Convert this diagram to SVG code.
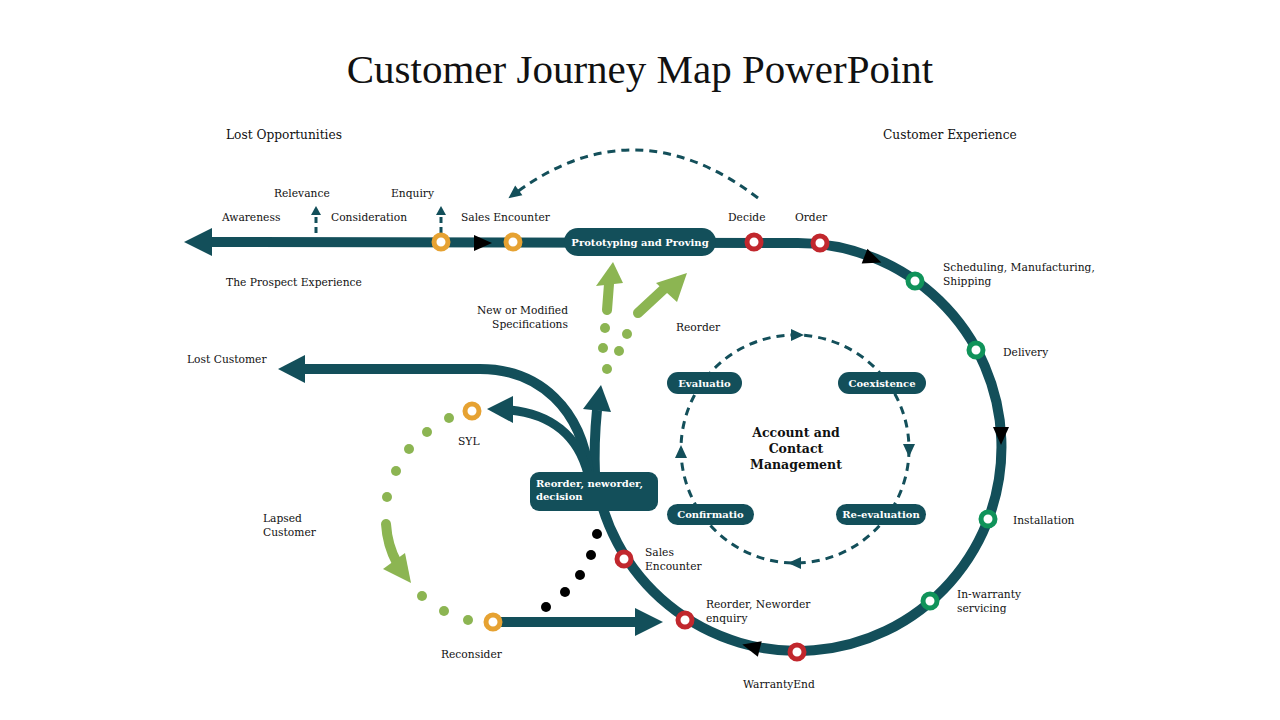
<svg xmlns="http://www.w3.org/2000/svg" xmlns:xlink="http://www.w3.org/1999/xlink" width="1280" height="720" viewBox="0 0 1280 720">
<style>
.title{font-family:"Liberation Serif","Times New Roman",serif;font-size:41px;fill:#111}
.lbl{font-family:"DejaVu Serif","Liberation Serif",serif;font-size:10.7px;fill:#111}
.head{font-family:"DejaVu Serif","Liberation Serif",serif;font-size:12.2px;fill:#111}
.pt{font-family:"DejaVu Serif","Liberation Serif",serif;font-size:10px;font-weight:bold;fill:#fff}
.ctr{font-family:"DejaVu Serif","Liberation Serif",serif;font-size:12.5px;font-weight:bold;fill:#111}
.teal{fill:none;stroke:#134f5a;stroke-width:10}
.tealf{fill:#134f5a}
.dash{fill:none;stroke:#134f5a;stroke-width:3;stroke-dasharray:8 6}
.gline{fill:none;stroke:#8cb552;stroke-width:10;stroke-linecap:round}
.gf{fill:#8cb552}
.ring{fill:#fff;stroke-width:5}
.ro{stroke:#e6a232}
.rr{stroke:#c1272d}
.rg{stroke:#10935a}
.pill{fill:#134f5a}
</style>
<defs>
<path id="tri" d="M-8,-8 L10,0 L-8,8 Z" fill="#000"/>
<path id="stri" d="M-6,-6 L7,0 L-6,6 Z" fill="#134f5a"/>
<circle id="gdot" r="5" fill="#8cb552"/>
<circle id="bdot" r="5" fill="#000"/>
</defs>

<text class="title" x="640" y="83" text-anchor="middle">Customer Journey Map PowerPoint</text>

<g id="connectors">
  <!-- main journey line and loop -->
  <path class="teal" d="M208,242 L798,243 A204,204 0 1 1 595,472"/>
  <polygon class="tealf" points="184,242 212,228 212,256"/>
  <!-- up arrow from decision -->
  <path class="teal" d="M595,475 C594,450 595,430 597,410"/>
  <polygon class="tealf" points="583,409 611,412 601,385"/>
  <!-- lost customer -->
  <path class="teal" d="M303,369 L480,369 C540,369 582,410 589,474"/>
  <polygon class="tealf" points="278,369 305,355 305,383"/>
  <!-- SYL -->
  <path class="teal" style="stroke-width:9" d="M510,410 C550,414 578,435 588,474"/>
  <polygon class="tealf" points="487,409 513,396 513,423"/>
  <!-- reconsider -->
  <path class="teal" d="M500,622 L638,622"/>
  <polygon class="tealf" points="663,622 635,608 635,636"/>
  <!-- black direction arrows -->
  <use href="#tri" transform="translate(482,243)"/>
  <use href="#tri" transform="translate(872,259) rotate(21)"/>
  <use href="#tri" transform="translate(1001,435) rotate(90)"/>
  <use href="#tri" transform="translate(752,647) rotate(194)"/>
  <!-- dashed small arrows -->
  <path class="dash" style="stroke-dasharray:6 4" d="M316,233 L316,214"/>
  <polygon class="tealf" points="316,206 311,215 321,215"/>
  <path class="dash" style="stroke-dasharray:6 4" d="M441,233 L441,214"/>
  <polygon class="tealf" points="441,206 436,215 446,215"/>
  <!-- big dashed arc -->
  <path class="dash" d="M758,198 Q636,105 517,192"/>
  <use href="#stri" transform="translate(514,194) rotate(143)"/>
  <!-- inner dashed cycle -->
  <circle class="dash" cx="795" cy="449" r="114"/>
  <use href="#stri" transform="translate(797,335)"/>
  <use href="#stri" transform="translate(909,450) rotate(90)"/>
  <use href="#stri" transform="translate(795,563) rotate(180)"/>
  <use href="#stri" transform="translate(681,452) rotate(-90)"/>
  <!-- green arrows to prototyping -->
  <path class="gline" d="M607,310 L609,284"/>
  <polygon class="gf" points="596,286 623,283 613,262"/>
  <path class="gline" d="M638,313 L665,288"/>
  <polygon class="gf" points="656,283 677,302 687,273"/>
  <use href="#gdot" x="605" y="328"/>
  <use href="#gdot" x="627" y="334"/>
  <use href="#gdot" x="603" y="348"/>
  <use href="#gdot" x="619" y="351"/>
  <use href="#gdot" x="607" y="369"/>
  <!-- green lapsed arc -->
  <use href="#gdot" x="449" y="418"/>
  <use href="#gdot" x="427" y="432"/>
  <use href="#gdot" x="409" y="449"/>
  <use href="#gdot" x="396" y="471"/>
  <use href="#gdot" x="387" y="497"/>
  <path class="gline" d="M386,524 C387,540 391,552 397,563"/>
  <polygon class="gf" points="383,569 405,553 411,583"/>
  <use href="#gdot" x="422" y="596"/>
  <use href="#gdot" x="444" y="611"/>
  <use href="#gdot" x="468" y="620"/>
  <!-- black dots -->
  <use href="#bdot" x="597" y="534"/>
  <use href="#bdot" x="591" y="555"/>
  <use href="#bdot" x="580" y="575"/>
  <use href="#bdot" x="565" y="592"/>
  <use href="#bdot" x="546" y="607"/>
</g>

<g id="labels">
  <text class="head" x="226" y="139">Lost Opportunities</text>
  <text class="head" x="883" y="139">Customer Experience</text>
  <text class="lbl" x="274" y="197">Relevance</text>
  <text class="lbl" x="391" y="197">Enquiry</text>
  <text class="lbl" x="222" y="221">Awareness</text>
  <text class="lbl" x="331" y="221">Consideration</text>
  <text class="lbl" x="461" y="221">Sales Encounter</text>
  <text class="lbl" x="728" y="221">Decide</text>
  <text class="lbl" x="795" y="221">Order</text>
  <text class="lbl" x="226" y="286">The Prospect Experience</text>
  <text class="lbl" x="943" y="271">Scheduling, Manufacturing,</text>
  <text class="lbl" x="943" y="285">Shipping</text>
  <text class="lbl" x="1003" y="356">Delivery</text>
  <text class="lbl" x="1013" y="524">Installation</text>
  <text class="lbl" x="957" y="598">In-warranty</text>
  <text class="lbl" x="957" y="612">servicing</text>
  <text class="lbl" x="743" y="688">WarrantyEnd</text>
  <text class="lbl" x="706" y="608">Reorder, Neworder</text>
  <text class="lbl" x="706" y="622">enquiry</text>
  <text class="lbl" x="645" y="556">Sales</text>
  <text class="lbl" x="645" y="570">Encounter</text>
  <text class="lbl" x="441" y="658">Reconsider</text>
  <text class="lbl" x="263" y="522">Lapsed</text>
  <text class="lbl" x="263" y="536">Customer</text>
  <text class="lbl" x="458" y="445">SYL</text>
  <text class="lbl" x="187" y="363">Lost Customer</text>
  <text class="lbl" x="568" y="314" text-anchor="end">New or Modified</text>
  <text class="lbl" x="568" y="328" text-anchor="end">Specifications</text>
  <text class="lbl" x="676" y="331">Reorder</text>
</g>

<g id="node-prototyping">
  <rect class="pill" x="564" y="228" width="152" height="28" rx="14"/>
  <text class="pt" x="640" y="245.5" text-anchor="middle">Prototyping and Proving</text>
</g>
<g id="node-decision">
  <rect class="pill" x="530" y="472" width="128" height="39" rx="9"/>
  <text class="pt" x="536" y="487">Reorder, neworder,</text>
  <text class="pt" x="536" y="500">decision</text>
</g>
<g id="node-evaluation">
  <rect class="pill" x="667" y="372" width="75" height="22" rx="11"/>
  <text class="pt" x="704.5" y="386.5" text-anchor="middle">Evaluatio</text>
</g>
<g id="node-coexistence">
  <rect class="pill" x="838" y="372" width="88" height="22" rx="11"/>
  <text class="pt" x="882" y="386.5" text-anchor="middle">Coexistence</text>
</g>
<g id="node-confirmation">
  <rect class="pill" x="667" y="504" width="87" height="21" rx="10.5"/>
  <text class="pt" x="710.5" y="518" text-anchor="middle">Confirmatio</text>
</g>
<g id="node-reevaluation">
  <rect class="pill" x="836" y="504" width="90" height="21" rx="10.5"/>
  <text class="pt" x="881" y="518" text-anchor="middle">Re-evaluation</text>
</g>
<g id="node-account">
  <text class="ctr" x="796" y="437" text-anchor="middle">Account and</text>
  <text class="ctr" x="796" y="453" text-anchor="middle">Contact</text>
  <text class="ctr" x="796" y="469" text-anchor="middle">Management</text>
</g>

<g id="rings">
  <circle class="ring ro" cx="441" cy="242" r="7"/>
  <circle class="ring ro" cx="513" cy="242" r="7"/>
  <circle class="ring rr" cx="754" cy="242" r="7"/>
  <circle class="ring rr" cx="820" cy="243" r="7"/>
  <circle class="ring rg" cx="915" cy="281" r="7"/>
  <circle class="ring rg" cx="976" cy="350" r="7"/>
  <circle class="ring rg" cx="988" cy="519" r="7"/>
  <circle class="ring rg" cx="930" cy="601" r="7"/>
  <circle class="ring rr" cx="797" cy="652" r="7"/>
  <circle class="ring rr" cx="685" cy="620" r="7"/>
  <circle class="ring rr" cx="624" cy="559" r="7"/>
  <circle class="ring ro" cx="472" cy="411" r="7"/>
  <circle class="ring ro" cx="493" cy="622" r="7"/>
</g>
</svg>
